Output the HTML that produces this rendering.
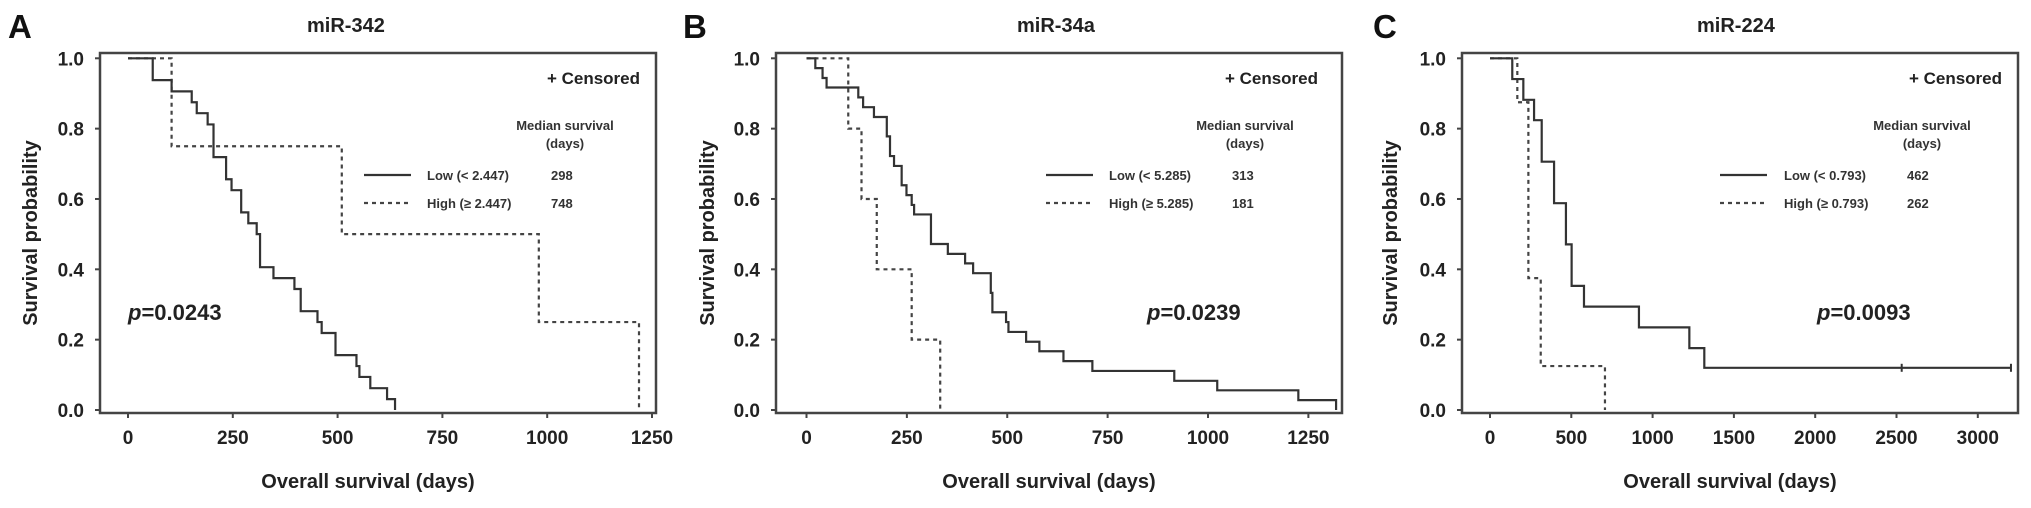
<!DOCTYPE html>
<html><head><meta charset="utf-8">
<style>
html,body{margin:0;padding:0;background:#fff;}
svg{display:block;font-family:"Liberation Sans",Arial,sans-serif;}
</style></head>
<body>
<svg id="fig" width="2031" height="508" viewBox="0 0 2031 508" xmlns="http://www.w3.org/2000/svg"></svg>
<script>
// ---- data ----
const panelLetters = ["A", "B", "C"];
const panelTitles = ["miR-342", "miR-34a", "miR-224"];
const pValues = ["0.0243", "0.0239", "0.0093"];
const lowLabels = ["Low (< 2.447)", "Low (< 5.285)", "Low (< 0.793)"];
const highLabels = ["High (\u2265 2.447)", "High (\u2265 5.285)", "High (\u2265 0.793)"];
const lowMedians = ["298", "313", "462"];
const highMedians = ["748", "181", "262"];
const yTicks = [0, 0.2, 0.4, 0.6, 0.8, 1.0];
const xTicksA = [0, 250, 500, 750, 1000, 1250];
const xTicksB = [0, 250, 500, 750, 1000, 1250];
const xTicksC = [0, 500, 1000, 1500, 2000, 2500, 3000];

const lowTimesA = [59,104,152,164,190,204,234,247,270,287,307,315,347,397,412,452,462,495,545,552,578,618,637];
const lowSurvA  = [0.938,0.906,0.875,0.844,0.812,0.719,0.656,0.625,0.562,0.531,0.5,0.406,0.375,0.344,0.281,0.25,0.219,0.156,0.125,0.094,0.062,0.031,0];
const highTimesA = [104,510,980,1219];
const highSurvA  = [0.75,0.5,0.25,0];

const lowTimesB = [22,40,50,129,141,168,200,208,218,237,249,262,268,310,352,395,415,459,463,497,503,547,580,640,712,916,1023,1225,1319];
const lowSurvB  = [0.972,0.944,0.917,0.889,0.861,0.833,0.778,0.722,0.694,0.639,0.611,0.583,0.556,0.472,0.444,0.417,0.389,0.333,0.278,0.25,0.222,0.194,0.167,0.139,0.111,0.083,0.056,0.028,0];
const highTimesB = [104,137,175,262,333];
const highSurvB  = [0.8,0.6,0.4,0.2,0];

const lowTimesC = [137,205,271,318,394,467,502,578,916,1226,1318];
const lowSurvC  = [0.941,0.882,0.824,0.706,0.588,0.471,0.353,0.294,0.235,0.176,0.12];
const lowEndC = 3204;
const censorTimesC = [2532, 3204];
const highTimesC = [168,236,312,707];
const highSurvC  = [0.875,0.375,0.125,0];
</script>
<script>
const NS = "http://www.w3.org/2000/svg";
const svg = document.getElementById("fig");
function mk(tag, attrs, parent, text) {
  const e = document.createElementNS(NS, tag);
  for (const k in attrs) e.setAttribute(k, attrs[k]);
  if (text !== undefined) e.textContent = text;
  (parent || svg).appendChild(e);
  return e;
}
const Y0 = 410, Y1 = 58.3;
function yScale(s) { return Y0 - (Y0 - Y1) * s; }

const layouts = [
  {frameL:100, frameR:656, x0:128, k:0.4192, ticks:xTicksA, letterX:8, titleX:307, ylabX:30,
   legLine:364, legText:427, legVal:551, medC:565, censR:640, pX:128,
   low:{t:lowTimesA, s:lowSurvA}, high:{t:highTimesA, s:highSurvA}},
  {frameL:776, frameR:1342, x0:806.5, k:0.4015, ticks:xTicksB, letterX:683, titleX:1017, ylabX:707,
   legLine:1046, legText:1109, legVal:1232, medC:1245, censR:1318, pX:1147,
   low:{t:lowTimesB, s:lowSurvB}, high:{t:highTimesB, s:highSurvB}},
  {frameL:1462, frameR:2018, x0:1490, k:0.1626, ticks:xTicksC, letterX:1373, titleX:1697, ylabX:1390,
   legLine:1720, legText:1784, legVal:1907, medC:1922, censR:2002, pX:1817,
   low:{t:lowTimesC, s:lowSurvC, end:lowEndC, cens:censorTimesC}, high:{t:highTimesC, s:highSurvC}}
];

function stepPath(xs, times, survs, end) {
  let d = "M" + xs(0) + "," + yScale(1);
  let prev = 1;
  for (let i = 0; i < times.length; i++) {
    d += " L" + xs(times[i]) + "," + yScale(prev);
    d += " L" + xs(times[i]) + "," + yScale(survs[i]);
    prev = survs[i];
  }
  if (end !== undefined) d += " L" + xs(end) + "," + yScale(prev);
  return d;
}

layouts.forEach((L, p) => {
  const g = mk("g", {});
  
  
  const xs = d => L.x0 + L.k * d;

  const letter = mk("text", {x:L.letterX, y:38, "font-size":33, "font-weight":"bold", fill:"#111"}, g, panelLetters[p]);
  
  

  const title = mk("text", {x:L.titleX, y:32, "font-size":20, "font-weight":"bold", fill:"#222"}, g, panelTitles[p]);
  
  

  const frame = mk("rect", {x:L.frameL, y:53, width:L.frameR - L.frameL, height:413 - 53, fill:"none", stroke:"#444", "stroke-width":2.5}, g);
  
  

  yTicks.forEach(v => {
    const y = yScale(v);
    const t = mk("line", {x1:L.frameL - 5, x2:L.frameL, y1:y, y2:y, stroke:"#444", "stroke-width":2}, g);
    
    
    const lb = mk("text", {x:L.frameL - 16, y:y + 7, "text-anchor":"end", "font-size":19, "font-weight":"bold", fill:"#222"}, g, v.toFixed(1));
    
    
  });
  L.ticks.forEach(v => {
    const x = xs(v);
    const t = mk("line", {x1:x, x2:x, y1:413, y2:418, stroke:"#444", "stroke-width":2}, g);
    
    
    const lb = mk("text", {x:x, y:444, "text-anchor":"middle", "font-size":19, "font-weight":"bold", fill:"#222"}, g, String(v));
    
    
  });

  const xt = mk("text", {x:(L.frameL + L.frameR) / 2 - 10, y:488, "text-anchor":"middle", "font-size":20, "font-weight":"bold", fill:"#222"}, g, "Overall survival (days)");
  
  
  const yt = mk("text", {x:0, y:0, transform:"translate(" + (L.ylabX + 7) + ",233) rotate(-90)", "text-anchor":"middle", "font-size":20, "font-weight":"bold", fill:"#222"}, g, "Survival probability");
  
  

  const hp = mk("path", {d:stepPath(xs, L.high.t, L.high.s), fill:"none", stroke:"#444", "stroke-width":2.2, "stroke-dasharray":"4,4"}, g);
  
  
  const lp = mk("path", {d:stepPath(xs, L.low.t, L.low.s, L.low.end), fill:"none", stroke:"#333", "stroke-width":2.2}, g);
  
  
  if (L.low.cens) {
    const lastS = L.low.s[L.low.s.length - 1];
    L.low.cens.forEach(c => {
      const cm = mk("line", {x1:xs(c), x2:xs(c), y1:yScale(lastS) - 4, y2:yScale(lastS) + 4, stroke:"#333", "stroke-width":2}, g);
      
      
    });
  }

  const cens = mk("text", {x:L.censR, y:84, "text-anchor":"end", "font-size":17, "font-weight":"bold", fill:"#222"}, g, "+ Censored");
  
  
  const med1 = mk("text", {x:L.medC, y:130, "text-anchor":"middle", "font-size":13, "font-weight":"bold", fill:"#333"}, g, "Median survival");
  
  
  const med2 = mk("text", {x:L.medC, y:148, "text-anchor":"middle", "font-size":13, "font-weight":"bold", fill:"#333"}, g, "(days)");
  
  

  const l1 = mk("line", {x1:L.legLine, x2:L.legLine + 47, y1:175, y2:175, stroke:"#333", "stroke-width":2.2}, g);
  
  
  const t1 = mk("text", {x:L.legText, y:180, "font-size":13, "font-weight":"bold", fill:"#333"}, g, lowLabels[p]);
  
  
  const v1 = mk("text", {x:L.legVal, y:180, "font-size":13, "font-weight":"bold", fill:"#333"}, g, lowMedians[p]);
  
  
  const l2 = mk("line", {x1:L.legLine, x2:L.legLine + 47, y1:203, y2:203, stroke:"#444", "stroke-width":2.2, "stroke-dasharray":"4,4"}, g);
  
  
  const t2 = mk("text", {x:L.legText, y:208, "font-size":13, "font-weight":"bold", fill:"#333"}, g, highLabels[p]);
  
  
  const v2 = mk("text", {x:L.legVal, y:208, "font-size":13, "font-weight":"bold", fill:"#333"}, g, highMedians[p]);
  
  

  const pv = mk("text", {x:L.pX, y:320, "font-size":22, "font-weight":"bold", fill:"#222"}, g);
  
  
  mk("tspan", {"font-style":"italic"}, pv, "p");
  mk("tspan", {}, pv, "=" + pValues[p]);
});
</script>
</body></html>
